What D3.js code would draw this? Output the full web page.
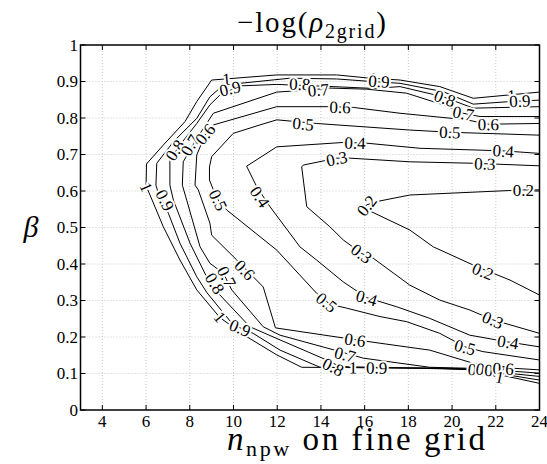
<!DOCTYPE html>
<html lang="en">
<head>
<meta charset="utf-8">
<title>-log(rho 2grid) contours</title>
<script src="https://cdn.jsdelivr.net/npm/d3@7/dist/d3.min.js"></script>
<style>
  body { margin: 0; background: #fff; }
  svg { display: block; }
  svg text { font-family: "Liberation Serif", "DejaVu Serif", serif; }
  .grid line { stroke: #bdbdbd; stroke-width: 0.8; stroke-dasharray: 1,2; }
  .contour { fill: none; stroke: #000; stroke-width: 1; }
  .clabel { font-size: 17px; fill: #000; stroke: #fff; stroke-width: 4px; paint-order: stroke; stroke-linejoin: round; }
</style>
</head>
<body>
<div id="chart"></div>
<script>
// axis ticks
var xTicks = [4, 6, 8, 10, 12, 14, 16, 18, 20, 22, 24];
var yTicks = [0, 0.1, 0.2, 0.3, 0.4, 0.5, 0.6, 0.7, 0.8, 0.9, 1];

// contour lines, [n_npw, beta]
var c10 = [[24,0.871],[20.97,0.854],[19.44,0.886],[17.62,0.904],[16.09,0.910],[14.72,0.918],[11.98,0.918],[9.0,0.904],[8.32,0.845],[7.78,0.790],[6.79,0.726],[6.02,0.674],[6.0,0.614],[6.18,0.589],[6.79,0.502],[7.55,0.411],[8.32,0.329],[9.38,0.253],[10.60,0.201],[11.98,0.151],[13.12,0.117],[19.44,0.115],[21.0,0.112],[24,0.073]];
var c09 = [[24,0.849],[22.65,0.845],[20.97,0.838],[19.60,0.872],[17.62,0.895],[16.09,0.901],[14.72,0.907],[12.58,0.909],[10.30,0.895],[9.38,0.882],[8.92,0.858],[8.32,0.799],[7.25,0.735],[6.49,0.676],[6.45,0.616],[6.56,0.594],[7.02,0.539],[7.55,0.457],[8.32,0.365],[8.79,0.321],[9.99,0.233],[10.90,0.210],[12.13,0.164],[13.96,0.117],[19.44,0.114],[21.0,0.111],[24,0.082]];
var c08 = [[24,0.831],[20.97,0.827],[19.60,0.858],[17.62,0.886],[16.39,0.881],[14.56,0.886],[11.98,0.892],[10.30,0.888],[9.38,0.863],[8.92,0.836],[8.32,0.785],[7.55,0.726],[7.09,0.685],[7.09,0.616],[7.25,0.575],[8.01,0.457],[8.77,0.365],[9.08,0.334],[10.75,0.228],[12.13,0.192],[14.26,0.137],[14.87,0.119],[19.44,0.113],[21.0,0.110],[24,0.092]];
var c07 = [[24,0.804],[21.28,0.804],[20.51,0.813],[19.60,0.836],[17.92,0.868],[16.09,0.879],[14.41,0.882],[13.50,0.877],[11.98,0.871],[9.08,0.813],[8.32,0.744],[7.70,0.680],[7.66,0.616],[7.86,0.575],[8.47,0.447],[8.92,0.402],[9.53,0.375],[9.92,0.329],[11.36,0.228],[12.13,0.205],[14.87,0.160],[15.94,0.142],[18.98,0.117],[21.0,0.114],[24,0.101]];
var c06 = [[24,0.785],[21.64,0.783],[20.67,0.795],[17.62,0.813],[15.48,0.829],[14.41,0.831],[11.98,0.831],[9.08,0.781],[8.70,0.753],[8.32,0.699],[8.24,0.616],[8.39,0.603],[8.92,0.512],[9.0,0.479],[10.15,0.411],[11.36,0.337],[11.92,0.225],[15.18,0.196],[16.70,0.183],[18.98,0.164],[20.97,0.128],[22.04,0.117],[24,0.110]];
var c05 = [[24,0.753],[19.9,0.761],[18.07,0.767],[13.80,0.785],[11.98,0.795],[11.21,0.781],[9.99,0.758],[9.0,0.694],[8.90,0.666],[8.90,0.630],[9.08,0.603],[9.30,0.575],[9.69,0.548],[11.98,0.438],[13.80,0.320],[14.41,0.290],[15.18,0.279],[16.70,0.256],[17.92,0.242],[19.44,0.210],[20.59,0.173],[21.41,0.160],[24,0.137]];
var c04 = [[24,0.703],[22.33,0.710],[18.53,0.717],[16.09,0.731],[15.02,0.733],[11.98,0.721],[10.60,0.668],[11.06,0.612],[11.67,0.557],[13.04,0.447],[13.80,0.411],[15.02,0.351],[16.09,0.308],[17.46,0.283],[18.98,0.251],[20.81,0.205],[22.50,0.187],[24,0.173]];
var c03 = [[24,0.669],[20.97,0.676],[18.07,0.680],[15.33,0.690],[14.72,0.690],[13.19,0.671],[13.12,0.666],[13.35,0.557],[14.41,0.502],[15.02,0.466],[15.86,0.429],[16.39,0.416],[18.07,0.342],[19.44,0.301],[20.81,0.274],[21.87,0.247],[24,0.210]];
var c02 = [[24,0.603],[23.26,0.603],[18.07,0.589],[16.55,0.571],[16.09,0.562],[15.97,0.553],[18.07,0.493],[19.14,0.447],[21.12,0.393],[22.65,0.356],[24,0.315]];

var levels = [1, 0.9, 0.8, 0.7, 0.6, 0.5, 0.4, 0.3, 0.2];
var lines = [c10, c09, c08, c07, c06, c05, c04, c03, c02];

// inline labels: [level, n_npw, beta]
var labelSpots = [
  [1, 9.68, 0.907], [0.9, 9.84, 0.881], [0.8, 13.04, 0.893], [0.7, 13.88, 0.877],
  [0.6, 14.87, 0.830], [0.5, 13.19, 0.784], [0.4, 15.56, 0.732], [0.3, 14.72, 0.689],
  [1, 16.38, 0.909], [0.9, 16.66, 0.901],
  [0.8, 19.67, 0.854], [0.7, 20.51, 0.813], [0.6, 21.66, 0.783], [0.5, 19.9, 0.761],
  [1, 22.73, 0.862], [0.9, 23.1, 0.847], [0.4, 22.34, 0.710], [0.3, 21.5, 0.675],
  [0.2, 23.26, 0.603], [0.2, 16.09, 0.560], [0.2, 21.41, 0.380],
  [0.3, 15.86, 0.429], [0.3, 21.87, 0.247], [0.4, 16.09, 0.307], [0.4, 22.56, 0.186],
  [0.5, 14.26, 0.295], [0.5, 20.59, 0.172], [0.6, 15.56, 0.192], [0.7, 15.10, 0.152],
  [0.8, 14.56, 0.118], [1, 15.47, 0.116], [0.9, 16.55, 0.116],
  [0.8, 21.2, 0.110], [0.9, 21.57, 0.110], [0.7, 21.96, 0.108], [0.6, 22.34, 0.114], [1, 22.18, 0.090],
  [1, 6.02, 0.611], [0.9, 6.87, 0.575], [0.5, 9.30, 0.575], [0.4, 11.21, 0.584],
  [0.8, 7.32, 0.712], [0.7, 8.01, 0.726], [0.6, 8.70, 0.756],
  [1, 9.38, 0.255], [0.9, 10.30, 0.225], [0.8, 9.15, 0.347], [0.7, 9.69, 0.365], [0.6, 10.52, 0.384]
];

var W = 547, H = 464;
var pl = 80.5, pr = 539.5, pt = 45, pb = 410;

var svg = d3.select("#chart").append("svg")
  .attr("width", W)
  .attr("height", H);

svg.append("rect").attr("width", W).attr("height", H).attr("fill", "#fff");

var x = d3.scaleLinear().domain([3, 24]).range([pl, pr]);
var y = d3.scaleLinear().domain([0, 1]).range([pb, pt]);

// dotted grid
var grid = svg.append("g").attr("class", "grid");
grid.selectAll(".gx").data(xTicks.filter(function (d) { return d < 24; }))
  .enter().append("line")
  .attr("x1", function (d) { return x(d); }).attr("x2", function (d) { return x(d); })
  .attr("y1", pt).attr("y2", pb);
grid.selectAll(".gy").data(yTicks.filter(function (d) { return d > 0 && d < 1; }))
  .enter().append("line")
  .attr("y1", function (d) { return y(d); }).attr("y2", function (d) { return y(d); })
  .attr("x1", pl).attr("x2", pr);

// contours
var line = d3.line()
  .x(function (d) { return x(d[0]); })
  .y(function (d) { return y(d[1]); });

svg.append("g").selectAll("path")
  .data(lines)
  .enter().append("path")
  .attr("class", "contour")
  .attr("d", line);

// labels rotated along the nearest segment
function angleAt(pts, px, py) {
  var best = Infinity, ang = 0;
  for (var i = 0; i < pts.length - 1; i++) {
    var ax = x(pts[i][0]), ay = y(pts[i][1]);
    var bx = x(pts[i + 1][0]), by = y(pts[i + 1][1]);
    var dx = bx - ax, dy = by - ay;
    var len2 = dx * dx + dy * dy || 1;
    var t = Math.max(0, Math.min(1, ((px - ax) * dx + (py - ay) * dy) / len2));
    var qx = ax + t * dx - px, qy = ay + t * dy - py;
    var dist = qx * qx + qy * qy;
    if (dist < best) { best = dist; ang = Math.atan2(dy, dx) * 180 / Math.PI; }
  }
  if (ang > 90) ang -= 180;
  if (ang < -90) ang += 180;
  return ang;
}

svg.append("g").selectAll("text")
  .data(labelSpots)
  .enter().append("text")
  .attr("class", "clabel")
  .attr("text-anchor", "middle")
  .attr("dy", "0.35em")
  .attr("transform", function (d) {
    var px = x(d[1]), py = y(d[2]);
    var a = angleAt(lines[levels.indexOf(d[0])], px, py);
    return "translate(" + px + "," + py + ") rotate(" + a + ")";
  })
  .text(function (d) { return String(d[0]); });

// box
svg.append("rect")
  .attr("x", pl).attr("y", pt)
  .attr("width", pr - pl).attr("height", pb - pt)
  .attr("fill", "none").attr("stroke", "#000").attr("stroke-width", 1.5);

// inward ticks on all four sides
var tk = svg.append("g").attr("stroke", "#000").attr("stroke-width", 1);
xTicks.forEach(function (d) {
  tk.append("line").attr("x1", x(d)).attr("x2", x(d)).attr("y1", pb).attr("y2", pb - 5);
  tk.append("line").attr("x1", x(d)).attr("x2", x(d)).attr("y1", pt).attr("y2", pt + 5);
});
yTicks.forEach(function (d) {
  tk.append("line").attr("x1", pl).attr("x2", pl + 5).attr("y1", y(d)).attr("y2", y(d));
  tk.append("line").attr("x1", pr).attr("x2", pr - 5).attr("y1", y(d)).attr("y2", y(d));
});

svg.append("g").selectAll("text")
  .data(xTicks)
  .enter().append("text")
  .attr("x", function (d) { return x(d); })
  .attr("y", 427)
  .attr("text-anchor", "middle")
  .style("font-size", "17px")
  .text(function (d) { return d; });

svg.append("g").selectAll("text")
  .data(yTicks)
  .enter().append("text")
  .attr("x", 78)
  .attr("y", function (d) { return y(d); })
  .attr("dy", "0.35em")
  .attr("text-anchor", "end")
  .style("font-size", "17px")
  .text(function (d) { return d; });

// title
var title = svg.append("text")
  .attr("x", 237).attr("y", 32)
  .attr("textLength", 149)
  .attr("lengthAdjust", "spacing")
  .style("font-size", "29px");
title.append("tspan").text("\u2212log(");
title.append("tspan").style("font-style", "italic").text("\u03c1");
title.append("tspan").attr("dy", 6).style("font-size", "20px").text("2grid");
title.append("tspan").attr("dy", -6).text(")");

// x label
var xl = svg.append("text")
  .attr("x", 227).attr("y", 450)
  .attr("textLength", 258)
  .attr("lengthAdjust", "spacing")
  .style("font-size", "33px");
xl.append("tspan").style("font-style", "italic").text("n");
xl.append("tspan").attr("dy", 6).style("font-size", "22px").text("npw");
xl.append("tspan").attr("dy", -6).text(" on fine grid");

// y label
svg.append("text")
  .attr("x", 31).attr("y", 237)
  .attr("text-anchor", "middle")
  .style("font-size", "30px")
  .style("font-style", "italic")
  .text("\u03b2");
</script>
</body>
</html>
